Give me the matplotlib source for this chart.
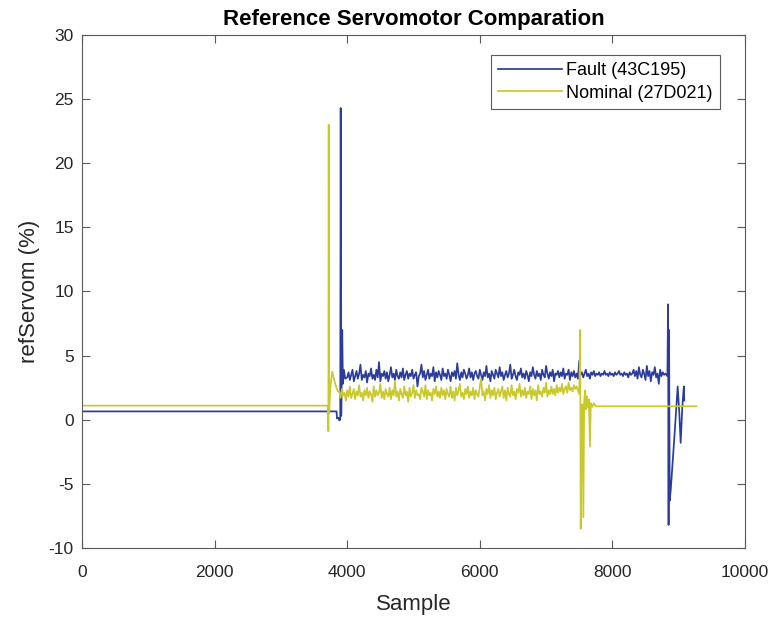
import numpy as np
import matplotlib.pyplot as plt

plt.rcParams['font.family'] = ['Liberation Sans', 'DejaVu Sans']
plt.rcParams['axes.unicode_minus'] = False

# Fault (43C195) - hand-read points
fault_start_x = [0, 3840, 3845, 3870, 3880, 3895, 3902, 3910, 3925, 3935, 3950, 3970]
fault_start_y = [0.65, 0.65, 0.1, 0.15, -0.05, 0.0, 24.3, 0.3, 7.0, 2.8, 3.9, 3.2]
fault_noise_x0, fault_noise_step = 4000, 20
fault_noise_y = [
    3.3, 3.7, 3.1, 3.5, 3.9, 3.0, 3.4, 3.8, 3.2, 3.6, 4.3, 3.1, 3.5, 3.3, 3.8, 2.9, 3.6, 3.4, 4.0, 3.2,
    3.5, 3.1, 3.9, 3.3, 4.5, 3.0, 3.6, 3.4, 3.8, 3.2, 3.7, 3.0, 3.5, 4.1, 3.3, 3.6, 3.1, 3.9, 3.4, 3.2,
    3.7, 3.3, 4.0, 3.1, 3.5, 3.8, 3.2, 3.6, 3.4, 3.9, 3.2, 3.5, 3.7, 2.6, 3.4, 3.6, 4.3, 3.3, 3.8, 3.1,
    3.5, 3.9, 3.2, 3.6, 3.4, 4.1, 3.0, 3.7, 3.3, 3.8, 3.5, 3.1, 4.0, 3.4, 3.6, 3.2, 3.9, 3.5, 3.0, 3.7,
    3.4, 3.8, 3.2, 4.4, 3.5, 3.1, 3.7, 3.3, 3.9, 3.6, 3.2, 3.5, 4.0, 3.3, 3.7, 3.1, 3.6, 3.8, 3.4, 3.2,
    3.9, 3.5, 3.1, 3.7, 3.4, 4.2, 3.3, 3.6, 3.0, 3.8, 3.5, 3.2, 3.9, 3.6, 3.3, 4.1, 3.4, 3.7, 3.1, 3.5,
    3.8, 3.3, 3.6, 4.3, 3.2, 3.5, 3.9, 3.4, 3.1, 3.7, 3.5, 4.0, 3.3, 3.6, 3.2, 3.8, 3.5, 3.0, 3.7, 3.4,
    4.1, 3.5, 3.2, 3.8, 3.4, 3.6, 3.1, 3.9, 3.5, 3.3, 4.2, 3.6, 3.2, 3.7, 3.4, 3.9, 3.0, 3.6, 3.5, 3.8,
    3.3, 3.7, 3.4, 4.0, 3.2, 3.6, 3.5, 3.9, 3.1, 3.7, 3.4, 3.8, 3.3, 3.6, 3.2, 4.6, 3.5, 3.7, 3.3, 3.6,
    3.9, 3.4, 3.6, 3.2, 3.7, 3.5, 3.8, 3.4, 3.6, 3.5, 3.7, 3.4, 3.6, 3.5, 3.8, 3.5, 3.6, 3.4, 3.7, 3.5,
    3.6, 3.4, 3.7, 3.5, 3.6, 3.8, 3.5, 3.6, 3.4, 3.7, 3.5, 3.6, 3.3, 3.7, 3.5, 3.6, 3.9, 3.4, 3.8, 3.2,
    4.1, 3.5, 3.3, 3.9, 3.6, 3.1, 4.2, 3.4, 3.8, 3.0, 3.7, 3.5, 4.1, 3.3, 3.6, 2.8, 3.9, 3.4, 3.7, 3.5,
    3.6,
]
fault_end_x = [8830, 8840, 8848, 8855, 8865, 8880, 8900, 8940, 8985, 9010, 9030, 9055, 9078, 9085]
fault_end_y = [3.4, 9.0, -8.2, 7.0, -6.3, -5.5, -4.0, -1.0, 2.6, 0.5, -1.8, 1.0, 2.6, 1.5]

# Nominal (27D021) - hand-read points
nominal_start_x = [0, 3700, 3712, 3716, 3721, 3728, 3745, 3775, 3800, 3830, 3860]
nominal_start_y = [1.1, 1.1, 1.0, -0.9, 23.0, 0.5, 2.5, 3.75, 3.2, 2.6, 2.2]
nominal_noise_x0, nominal_noise_step = 3880, 20
nominal_noise_y = [
    2.2, 1.7, 2.4, 1.9, 2.1, 1.5, 2.3, 1.8, 2.6, 1.7, 2.0, 2.4, 1.6, 2.2, 1.9, 2.7, 1.8, 2.1, 1.5, 2.3,
    1.9, 2.5, 1.7, 2.2, 2.0, 1.4, 2.6, 1.8, 2.3, 1.9, 2.1, 2.8, 1.7, 2.2, 1.6, 2.4, 2.0, 1.8, 2.5, 1.6,
    2.3, 1.9, 3.0, 1.8, 2.2, 1.5, 2.4, 2.0, 1.7, 2.6, 1.9, 2.2, 1.4, 2.5, 1.8, 2.1, 2.7, 1.7, 2.3, 1.9,
    2.0, 1.6, 2.5, 2.2, 1.8, 2.7, 1.6, 2.3, 1.9, 2.1, 1.5, 2.4, 2.0, 2.6, 1.8, 2.2, 1.7, 2.5, 1.9, 2.3,
    1.6, 2.4, 2.0, 1.8, 2.6, 1.7, 2.2, 1.5, 2.5, 1.9, 2.3, 2.8, 1.8, 2.1, 1.6, 2.4, 2.0, 2.6, 1.7, 2.2,
    1.9, 2.5, 1.6, 2.3, 2.0, 1.8, 2.6, 3.2, 1.9, 2.2, 1.5, 2.4, 2.0, 2.7, 1.7, 2.3, 1.9, 2.5, 1.6, 2.1,
    2.4, 1.8, 2.2, 2.6, 1.7, 2.3, 1.5, 2.5, 2.0, 1.8, 2.7, 1.9, 2.2, 1.6, 2.4, 2.1, 2.8, 1.8, 2.3, 1.9,
    2.5, 1.7, 2.2, 2.0, 2.6, 1.6, 2.4, 1.9, 2.3, 1.5, 2.7, 2.0, 2.2, 1.8, 2.5, 2.1, 2.9, 1.8, 2.3, 2.0,
    2.6, 2.0, 2.4, 1.9, 2.7, 2.1, 2.5, 2.2, 2.8, 2.0, 2.4, 2.6, 2.1, 2.9, 2.3, 2.5, 2.2, 2.7, 2.4, 2.6,
    2.3,
]
nominal_end_x = [7500, 7515, 7522, 7535, 7548, 7562, 7575, 7590, 7605, 7618, 7630, 7645, 7662, 7675, 7700, 7720, 7750, 9270]
nominal_end_y = [2.0, 7.0, -8.5, -2.0, 1.2, -7.6, 1.5, 2.3, 0.8, 1.8, 1.0, 1.6, -2.1, 1.3, 1.0, 1.3, 1.05, 1.05]


def build(sx, sy, x0, step, ny, ex, ey):
    nx = x0 + step * np.arange(len(ny))
    return (np.concatenate([sx, nx, ex]), np.concatenate([sy, ny, ey]))


fx, fy = build(fault_start_x, fault_start_y, fault_noise_x0, fault_noise_step,
               fault_noise_y, fault_end_x, fault_end_y)
nx, ny = build(nominal_start_x, nominal_start_y, nominal_noise_x0, nominal_noise_step,
               nominal_noise_y, nominal_end_x, nominal_end_y)

fig = plt.figure(figsize=(7.76, 6.19), dpi=100)
ax = fig.add_axes([0.1057, 0.1147, 0.8543, 0.8288])

ax.plot(fx, fy, color='#2B3C9C', lw=1.25, label='Fault (43C195)')
ax.plot(nx, ny, color='#C9C82C', lw=1.25, label='Nominal (27D021)')

ax.set_xlim(0, 10000)
ax.set_ylim(-10, 30)
ax.set_xticks(np.arange(0, 10001, 2000))
ax.set_yticks(np.arange(-10, 31, 5))

for s in ax.spines.values():
    s.set_color('#5a5a5a')
    s.set_linewidth(0.8)
ax.tick_params(direction='in', top=True, right=True, length=6, width=0.8,
               color='#5a5a5a', labelsize=12.5, labelcolor='#262626')
ax.tick_params(axis='x', pad=12)
ax.tick_params(axis='y', pad=6)

ax.set_title('Reference Servomotor Comparation', fontsize=16, fontweight='bold', pad=7)
ax.set_xlabel('Sample', fontsize=16, color='#262626', labelpad=10)
ax.set_ylabel('refServom (%)', fontsize=16, color='#262626', labelpad=6)

leg = ax.legend(loc='upper right', bbox_to_anchor=(0.962, 0.961), borderaxespad=0,
                fontsize=13, fancybox=False, framealpha=1, edgecolor='#5a5a5a',
                handlelength=3.5, borderpad=0.4, labelspacing=0.3, handletextpad=0.25)
leg.get_frame().set_linewidth(0.8)

fig.savefig('out.png', dpi=100)
